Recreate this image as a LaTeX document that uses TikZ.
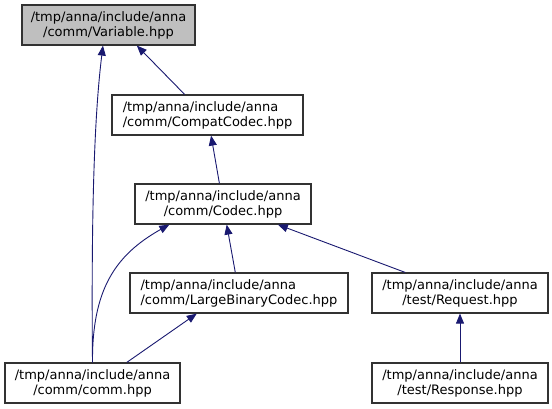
\documentclass[tikz,border=0pt]{standalone}
\usepackage{fontspec}
\setmainfont{DejaVu Sans}
\usepackage{tikz}
\usetikzlibrary{arrows.meta,positioning}
\definecolor{EdgeNavy}{RGB}{25,25,112}
\definecolor{RootGrey}{RGB}{191,191,191}
\definecolor{BoxLine}{RGB}{50,50,50}

\begin{document}
\begin{tikzpicture}[x=1pt,y=1pt,
    file/.style={draw=BoxLine, line width=1.2pt, fill=white, minimum height=40pt, inner sep=0pt, align=center, font=\fontsize{13}{15}\selectfont},
    edge/.style={draw=EdgeNavy, line width=0.9pt, -{Triangle[length=10pt,width=8pt]}}]
    \useasboundingbox (0,0) rectangle (552,-409);
    % files
    \node[file, fill=RootGrey, minimum width=173pt] (var) at (108.5,-25) {/tmp/anna/include/anna\\/comm/Variable.hpp};
    \node[file, minimum width=191pt, align=left] (compat) at (207.5,-115) {/tmp/anna/include/anna\\/comm/CompatCodec.hpp};
    \node[file, minimum width=176pt] (codec) at (223,-204) {/tmp/anna/include/anna\\/comm/Codec.hpp};
    \node[file, minimum width=218pt, align=left] (large) at (239,-293) {/tmp/anna/include/anna\\/comm/LargeBinaryCodec.hpp};
    \node[file, minimum width=175pt] (comm) at (92.5,-383) {/tmp/anna/include/anna\\/comm/comm.hpp};
    \node[file, minimum width=176pt] (request) at (460,-293) {/tmp/anna/include/anna\\/test/Request.hpp};
    \node[file, minimum width=176pt] (response) at (460,-383) {/tmp/anna/include/anna\\/test/Response.hpp};
    % includes
    \foreach \a/\b in {codec/compat,large/codec,request/codec,response/request} {
      \draw[edge] (\a) -- (\b);
    }
    \draw[edge] (compat.138) -- (var.324);
    \draw[edge] (comm.north) .. controls (91,-200) and (95,-110) .. (var.255);
    \draw[edge] (comm.north) .. controls (92,-290) and (115,-255) .. (codec.201);
    \draw[edge] (comm.31) -- (large.206);
\end{tikzpicture}
\end{document}
